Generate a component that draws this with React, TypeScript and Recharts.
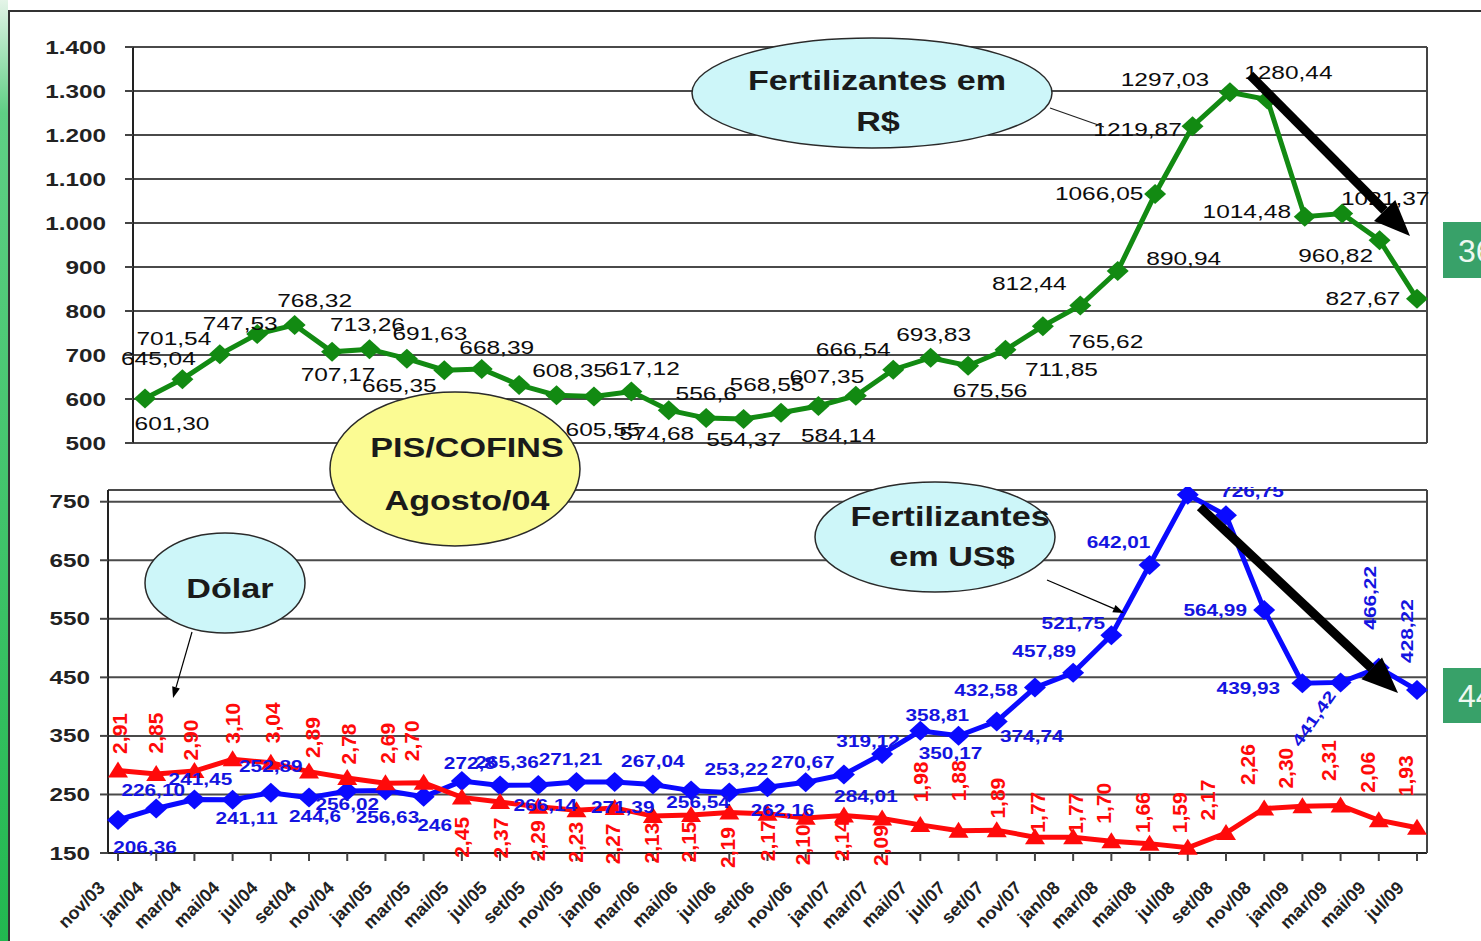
import React from "react";
import { LineChart, Line, XAxis, YAxis, CartesianGrid, LabelList } from "recharts";

// bimonthly samples, nov/03 .. jul/09
const months = [
  "nov/03", "jan/04", "mar/04", "mai/04", "jul/04", "set/04", "nov/04", "jan/05", "mar/05", "mai/05",
  "jul/05", "set/05", "nov/05", "jan/06", "mar/06", "mai/06", "jul/06", "set/06", "nov/06", "jan/07",
  "mar/07", "mai/07", "jul/07", "set/07", "nov/07", "jan/08", "mar/08", "mai/08", "jul/08", "set/08",
  "nov/08", "jan/09", "mar/09", "mai/09", "jul/09",
];

// Fertilizantes em R$ (as printed on the chart)
const fertReal = [
  "601,30", "645,04", "701,54", "747,53", "768,32", "707,17", "713,26", "691,63", "665,35", "668,39",
  "631,90", "608,35", "605,55", "617,12", "574,68", "556,6", "554,37", "568,55", "584,14", "607,35",
  "666,54", "693,83", "675,56", "711,85", "765,62", "812,44", "890,94", "1066,05", "1219,87", "1297,03",
  "1280,44", "1014,48", "1021,37", "960,82", "827,67",
];

// Fertilizantes em US$
const fertUsd = [
  "206,36", "226,10", "241,45", "241,11", "252,89", "244,6", "256,02", "256,63", "246", "272,8",
  "265,36", "266,14", "271,21", "271,39", "267,04", "256,54", "253,22", "262,16", "270,67", "284,01",
  "319,12", "358,81", "350,17", "374,74", "432,58", "457,89", "521,75", "642,01", "762,00", "726,75",
  "564,99", "439,93", "441,42", "466,22", "428,22",
];

// Dólar (R$/US$), plotted x100 on the US$ scale
const dolar = [
  2.91, 2.85, 2.9, 3.1, 3.04, 2.89, 2.78, 2.69, 2.7, 2.45,
  2.37, 2.29, 2.23, 2.27, 2.13, 2.15, 2.19, 2.17, 2.1, 2.14,
  2.09, 1.98, 1.88, 1.89, 1.77, 1.77, 1.7, 1.66, 1.59, 1.84,
  2.26, 2.3, 2.31, 2.06, 1.93,
];
const dolarLabels = [
  "2,91", "2,85", "2,90", "3,10", "3,04", "2,89", "2,78", "2,69", "2,70", "2,45",
  "2,37", "2,29", "2,23", "2,27", "2,13", "2,15", "2,19", "2,17", "2,10", "2,14",
  "2,09", "1,98", "1,88", "1,89", "1,77", "1,77", "1,70", "1,66", "1,59", "2,17",
  "2,26", "2,30", "2,31", "2,06", "1,93",
];

const topTicks = [500, 600, 700, 800, 900, 1000, 1100, 1200, 1300, 1400];
const bottomTicks = [150, 250, 350, 450, 550, 650, 750];

const num = (s: string) => parseFloat(s.replace(",", "."));

const rows = months.map((m, i) => ({
  m,
  real: num(fertReal[i]),
  realLbl: fertReal[i],
  usd: num(fertUsd[i]),
  usdLbl: fertUsd[i],
  dol: Math.round(dolar[i] * 100),
  dolLbl: dolarLabels[i],
}));

// label placement, offset of text centre from the point: [dx, dy, rotation]
type Place = [number, number, number?] | null;
const realPlace: Place[] = [
  [27, 25], [-24, -21], [-46, -16], [-17, -11], [20, -24], [6, 23], [-2, -25], [23, -25], [-45, 15], [15, -21],
  null, [13, -25], [9, 33], [11, -23], [-12, 23], [0, -25], [0, 20], [-14, -28], [20, 30], [-29, -19],
  [-40, -20], [3, -23], [22, 25], [56, 20], [63, 15], [-51, -22], [66, -12], [-56, 0], [-55, 3], [-65, -13],
  [21, -27], [-58, -5], [43, -15], [-44, 15], [-54, 0],
];
const usdPlace: Place[] = [
  [27, 27], [-3, -18], [6, -20], [14, 19], [0, -27], [6, 19], [0, 13], [2, 27], [11, 28], [8, -18],
  [7, -23], [7, 20], [-6, -23], [8, 25], [0, -23], [7, 12], [7, -23], [15, 23], [-3, -20], [22, 22],
  [-14, -13], [17, -16], [-8, 17], [35, 15], [-49, 3], [-29, -22], [-38, -12], [-31, -23], null, [26, -24],
  [-49, 0], [-54, 5], [-27, 36, -55], [-9, -70, -90], [-10, -59, -90],
];
const dolPlace: Place[] = [
  [1, -37, -90], [-1, -41, -90], [-4, -31, -90], [0, -36, -90], [2, -40, -90], [3, -34, -90], [1, -34, -90],
  [2, -40, -90], [-12, -42, -90], [0, 40, -90], [0, 36, -90], [-1, 34, -90], [-1, 32, -90], [-2, 36, -90],
  [-1, 27, -90], [-3, 27, -90], [-2, 35, -90], [0, 27, -90], [-3, 27, -90], [-2, 25, -90], [-2, 27, -90],
  [0, -43, -90], [0, -50, -90], [1, -32, -90], [2, -25, -90], [2, -24, -90], [-8, -38, -90], [-7, -31, -90],
  [-8, -35, -90], [-19, -33, -90], [-17, -44, -90], [-17, -38, -90], [-12, -45, -90], [-11, -48, -90],
  [-12, -52, -90],
];

const FONT = "'Liberation Sans', Arial, Helvetica, sans-serif";
const GREEN = "#128a12";
const BLUE = "#0a0aff";
const RED = "#ff0a0a";
const GRID = "#4a4a4a";

const makeLabel =
  (place: Place[], o: { size: number; sx: number; fill: string; weight: string }) =>
  (props: any) => {
    const i = props.index;
    const p = place[i];
    const x = props.x ?? props.viewBox?.x;
    const y = props.y ?? props.viewBox?.y;
    if (!p || x == null || y == null) return null;
    const [dx, dy, rot = 0] = p;
    return (
      <text
        key={`l${i}`}
        transform={`translate(${x + dx},${y + dy}) rotate(${rot}) scale(${o.sx},1)`}
        textAnchor="middle"
        dy={o.size * 0.36}
        fontSize={o.size}
        fontFamily={FONT}
        fontWeight={o.weight}
        fill={o.fill}
      >
        {props.value}
      </text>
    );
  };

const realLabel = makeLabel(realPlace, { size: 18, sx: 1.36, fill: "#0c0c0c", weight: "normal" });
const usdLabel = makeLabel(usdPlace, { size: 16, sx: 1.3, fill: "#1414e0", weight: "bold" });
const dolLabel = makeLabel(dolPlace, { size: 21, sx: 1, fill: RED, weight: "bold" });

const diamond = (fill: string) => (p: any) => {
  const { cx, cy, index } = p;
  if (cx == null || cy == null) return <g key={`d${index}`} />;
  return (
    <polygon key={`d${index}`} points={`${cx},${cy - 10} ${cx + 11},${cy} ${cx},${cy + 10} ${cx - 11},${cy}`} fill={fill} />
  );
};
const triangle = (fill: string) => (p: any) => {
  const { cx, cy, index } = p;
  if (cx == null || cy == null) return <g key={`t${index}`} />;
  return <polygon key={`t${index}`} points={`${cx},${cy - 9} ${cx + 10},${cy + 7} ${cx - 10},${cy + 7}`} fill={fill} />;
};

const thousands = (v: number) =>
  v >= 1000 ? `${Math.floor(v / 1000)}.${String(v % 1000).padStart(3, "0")}` : `${v}`;

const YTick = (fmt: (v: number) => string) => (props: any) => {
  const { x, y, payload } = props;
  return (
    <text
      transform={`translate(${x},${y}) scale(1.35,1)`}
      textAnchor="end"
      dy={6.5}
      fontSize={18}
      fontWeight="bold"
      fontFamily={FONT}
      fill="#222"
    >
      {fmt(payload.value)}
    </text>
  );
};

const XTick = (props: any) => {
  const { x, y, payload } = props;
  return (
    <text
      transform={`translate(${x - 12},${y + 26}) rotate(-45)`}
      textAnchor="end"
      fontSize={18}
      fontWeight="bold"
      fontFamily={FONT}
      fill="#222"
    >
      {payload.value}
    </text>
  );
};

function Bubble({ cx, cy, rx, ry, fill, lines }: { cx: number; cy: number; rx: number; ry: number; fill: string; lines: [string, number, number][] }) {
  return (
    <g>
      <ellipse cx={cx} cy={cy} rx={rx} ry={ry} fill={fill} stroke="#2a2a2a" strokeWidth={1.5} />
      {lines.map(([t, x, y]) => (
        <text
          key={t}
          transform={`translate(${x},${y}) scale(1.22,1)`}
          textAnchor="middle"
          fontSize={28}
          fontWeight="bold"
          fontFamily={FONT}
          fill="#1a1a1a"
        >
          {t}
        </text>
      ))}
    </g>
  );
}

function Arrow({ x1, y1, x2, y2, w, hl, hw }: { x1: number; y1: number; x2: number; y2: number; w: number; hl: number; hw: number }) {
  const dx = x2 - x1;
  const dy = y2 - y1;
  const len = Math.hypot(dx, dy);
  const ux = dx / len;
  const uy = dy / len;
  const bx = x2 - ux * hl;
  const by = y2 - uy * hl;
  return (
    <g>
      <line x1={x1} y1={y1} x2={bx} y2={by} stroke="#000" strokeWidth={w} />
      <polygon points={`${x2},${y2} ${bx - uy * hw},${by + ux * hw} ${bx + uy * hw},${by - ux * hw}`} fill="#000" />
    </g>
  );
}

export default function App() {
  return (
    <div style={{ position: "absolute", left: 0, top: 0, width: 1481, height: 941, background: "#fff", overflow: "hidden" }}>
      <svg width={1481} height={941} style={{ position: "absolute", left: 0, top: 0 }}>
        <defs>
          <linearGradient id="strip" x1="0" y1="0" x2="0" y2="1">
            <stop offset="0" stopColor="#e4f4e8" />
            <stop offset="0.12" stopColor="#5fcf85" />
            <stop offset="1" stopColor="#22b850" />
          </linearGradient>
        </defs>
        <rect x={0} y={0} width={8} height={941} fill="url(#strip)" />
        <line x1={8} y1={11} x2={1481} y2={11} stroke="#333" strokeWidth={2} />
        <line x1={9} y1={11} x2={9} y2={941} stroke="#333" strokeWidth={2} />
      </svg>

      <div style={{ position: "absolute", left: 0, top: 0 }}>
        <LineChart width={1481} height={470} data={rows} margin={{ top: 47, right: 53, bottom: 27, left: 0 }}>
          <CartesianGrid vertical={false} stroke={GRID} strokeWidth={2} />
          <XAxis dataKey="m" hide padding={{ left: 12, right: 10 }} />
          <YAxis
            domain={[500, 1400]}
            ticks={topTicks}
            interval={0}
            width={133}
            tickSize={8}
            tickMargin={19}
            axisLine={{ stroke: "#222", strokeWidth: 2 }}
            tickLine={{ stroke: "#444", strokeWidth: 2 }}
            tick={YTick(thousands)}
          />
          <YAxis yAxisId="r" orientation="right" width={1} domain={[0, 1]} tick={false} tickLine={false} axisLine={{ stroke: "#444", strokeWidth: 2 }} />
          <Line dataKey="real" stroke={GREEN} strokeWidth={5} dot={diamond(GREEN)} activeDot={false} isAnimationActive={false}>
            <LabelList dataKey="realLbl" content={realLabel} />
          </Line>
        </LineChart>
      </div>

      <div style={{ position: "absolute", left: 0, top: 487, width: 1481, height: 454, overflow: "hidden" }}>
        <LineChart width={1481} height={454} data={rows} margin={{ top: 3, right: 53, bottom: 0, left: 0 }}>
          <CartesianGrid vertical={false} stroke={GRID} strokeWidth={2} />
          <XAxis
            dataKey="m"
            interval={0}
            height={88}
            padding={{ left: 10, right: 10 }}
            tickSize={8}
            tickMargin={2}
            axisLine={{ stroke: "#222", strokeWidth: 2 }}
            tickLine={{ stroke: "#444", strokeWidth: 2 }}
            tick={XTick}
          />
          <YAxis
            domain={[150, 770]}
            ticks={bottomTicks}
            interval={0}
            width={108}
            tickSize={8}
            tickMargin={10}
            axisLine={{ stroke: "#222", strokeWidth: 2 }}
            tickLine={{ stroke: "#444", strokeWidth: 2 }}
            tick={YTick((v) => `${v}`)}
          />
          <YAxis yAxisId="r" orientation="right" width={1} domain={[0, 1]} tick={false} tickLine={false} axisLine={{ stroke: "#444", strokeWidth: 2 }} />
          <Line dataKey="usd" stroke={BLUE} strokeWidth={5} dot={diamond(BLUE)} activeDot={false} isAnimationActive={false}>
            <LabelList dataKey="usdLbl" content={usdLabel} />
          </Line>
          <Line dataKey="dol" stroke={RED} strokeWidth={5} dot={triangle(RED)} activeDot={false} isAnimationActive={false}>
            <LabelList dataKey="dolLbl" content={dolLabel} />
          </Line>
        </LineChart>
      </div>

      <svg width={1481} height={941} style={{ position: "absolute", left: 0, top: 0, pointerEvents: "none" }}>
        <line x1={1050} y1={108} x2={1104} y2={127} stroke="#222" strokeWidth={1.2} />
        <Bubble cx={872} cy={93} rx={180} ry={55} fill="#cdf6f9" lines={[["Fertilizantes em", 877, 90], ["R$", 878, 131]]} />
        <Bubble cx={455} cy={469} rx={125} ry={77} fill="#fbfb93" lines={[["PIS/COFINS", 467, 457], ["Agosto/04", 467, 510]]} />
        <Arrow x1={192} y1={632} x2={173} y2={698} w={1.2} hl={11} hw={4} />
        <Bubble cx={225} cy={583} rx={80} ry={50} fill="#cdf6f9" lines={[["Dólar", 230, 598]]} />
        <Arrow x1={1047} y1={580} x2={1124} y2={613} w={1.2} hl={11} hw={4} />
        <Bubble cx={935} cy={537} rx={120} ry={55} fill="#cdf6f9" lines={[["Fertilizantes", 950, 526], ["em US$", 952, 566]]} />
        <Arrow x1={1250} y1={75} x2={1410} y2={236} w={9} hl={36} hw={15} />
        <Arrow x1={1200} y1={507} x2={1398} y2={693} w={9} hl={36} hw={15} />
        <rect x={1443} y={222} width={40} height={56} fill="#38a169" />
        <text x={1458} y={262} fontSize={32} fontFamily={FONT} fill="#eef8f1">36</text>
        <rect x={1443} y={668} width={40} height={55} fill="#38a169" />
        <text x={1458} y={707} fontSize={32} fontFamily={FONT} fill="#eef8f1">44</text>
      </svg>
    </div>
  );
}
